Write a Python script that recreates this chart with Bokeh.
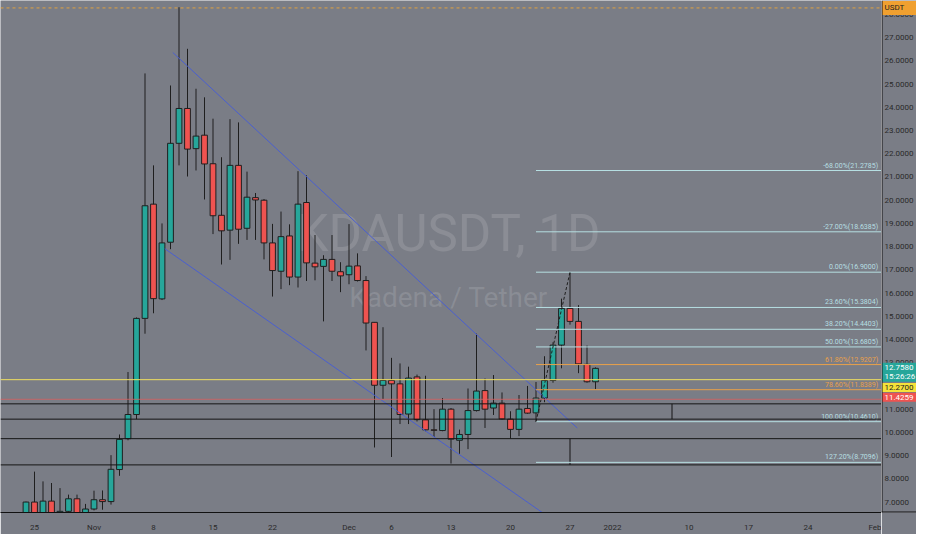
import pandas as pd

from bokeh.core.properties import value
from bokeh.embed import file_html
from bokeh.layouts import row
from bokeh.models import FixedTicker, Label, Range1d, Span
from bokeh.plotting import figure
from bokeh.resources import INLINE

# daily candles, KDA/USDT, starting 2021-10-24
first_day = "2021-10-24"
opens = [6.40, 7.00, 6.45, 7.04, 6.45, 6.60, 7.14, 6.52,
         6.70, 7.10, 7.02, 8.40, 9.73, 10.77, 14.91, 19.83, 15.75, 18.19,
         22.45, 23.95, 22.22, 22.80, 21.57, 19.35, 18.71, 21.50, 18.79, 20.11,
         20.00, 18.16, 16.94, 18.46, 16.69, 19.90, 17.29, 17.15, 17.45, 16.92,
         16.79, 17.17, 16.54, 14.74, 12.03, 12.24, 12.09, 10.79, 12.39, 10.54,
         10.11, 10.08, 11.00, 9.66, 9.91, 10.94, 11.80, 11.05, 11.26, 10.57,
         10.13, 11.03, 10.84, 11.48, 12.24, 13.76, 15.34, 14.78, 12.93, 12.18]
highs = [7.02, 8.31, 7.89, 7.82, 7.60, 7.32, 7.32, 6.92,
         7.49, 7.50, 9.02, 9.91, 12.60, 14.95, 25.46, 21.50, 19.00, 24.94,
         28.31, 26.52, 24.80, 24.43, 23.51, 21.85, 23.49, 23.35, 21.23, 20.31,
         20.05, 18.98, 19.51, 18.96, 21.25, 21.07, 18.50, 17.63, 18.50, 17.33,
         18.97, 17.71, 16.73, 14.75, 14.53, 13.21, 12.97, 12.83, 12.49, 12.44,
         11.00, 11.48, 11.05, 10.12, 11.89, 14.25, 12.32, 12.47, 11.72, 10.91,
         11.61, 12.00, 12.17, 13.28, 13.88, 15.76, 16.90, 15.48, 13.74, 12.80]
lows = [6.30, 6.30, 6.35, 6.30, 6.30, 6.50, 6.40, 6.45,
        6.64, 6.67, 6.89, 8.13, 9.66, 10.57, 14.25, 15.13, 15.70, 17.89,
        21.50, 21.02, 21.28, 20.03, 18.54, 17.23, 17.43, 18.12, 18.29, 18.29,
        17.45, 15.85, 16.17, 16.34, 16.24, 16.52, 16.55, 14.78, 16.52, 16.04,
        16.38, 16.50, 13.53, 9.35, 11.44, 8.94, 10.36, 10.36, 10.47, 10.05,
        9.80, 10.05, 8.66, 9.08, 9.28, 10.90, 10.19, 10.75, 10.55, 9.74,
        9.84, 10.80, 10.46, 11.30, 12.14, 12.76, 14.64, 12.55, 12.14, 11.86]
closes = [7.00, 6.45, 7.04, 6.45, 6.60, 7.14, 6.52, 6.70,
          7.10, 7.02, 8.41, 9.70, 10.77, 14.91, 19.76, 15.76, 18.16, 22.45,
          23.95, 22.20, 22.76, 21.56, 19.33, 18.68, 21.50, 18.75, 20.13, 20.01,
          18.16, 16.97, 18.43, 16.69, 19.83, 17.30, 17.13, 17.45, 16.94, 16.74,
          17.16, 16.54, 14.71, 12.03, 12.24, 12.09, 10.77, 12.34, 10.55, 10.11,
          10.09, 11.00, 9.71, 9.91, 10.94, 11.78, 11.00, 11.26, 10.58, 10.13,
          11.00, 10.83, 11.48, 12.24, 13.76, 15.34, 14.78, 12.95, 12.18, 12.758]

tick_dates = ["2021-10-25", "2021-11-01", "2021-11-08", "2021-11-15", "2021-11-22",
              "2021-12-01", "2021-12-06", "2021-12-13", "2021-12-20", "2021-12-27",
              "2022-01-01", "2022-01-10", "2022-01-17", "2022-01-24", "2022-02-01"]
tick_labels = ["25", "Nov", "8", "15", "22", "Dec", "6", "13", "20", "27",
               "2022", "10", "17", "24", "Feb"]
price_ticks = [7, 8, 9, 10, 11, 12, 13, 14, 15, 16, 17, 18, 19, 20, 21, 22,
               23, 24, 25, 26, 27, 28]

# fibonacci retracement drawn from 2021-12-23
fib_start = "2021-12-23"
fib_pcts = [-68.0, -27.0, 0.0, 23.6, 38.2, 50.0, 61.8, 78.6, 100.0, 127.2]
fib_prices = [21.2785, 18.6385, 16.9000, 15.3804, 14.4403, 13.6805, 12.9207,
              11.8389, 10.4610, 8.7096]
fib_trend_dates = ["2021-12-23", "2021-12-27"]
fib_trend_prices = [10.461, 16.90]

# wedge trendlines
upper_dates = ["2021-11-10 06:30", "2021-12-27 20:24"]
upper_prices = [26.36, 10.19]
lower_dates = ["2021-11-09 08:00", "2021-12-26 00:00"]
lower_prices = [17.91, 5.97]

# horizontal levels
alert_price = 28.28
last_price = 12.758
yellow_price = 12.27
red_price = 11.4259
box_tops = [11.23, 9.73]
box_bottoms = [10.57, 8.60]
box_edges = ["2022-01-08", "2021-12-27"]

BG = "#7a7d86"
UP = "#26a69a"
DOWN = "#ef5350"
INK = "#1f1f1f"
AXIS_TEXT = "#2a2a2a"
FIB = "#b6dfe2"
FIB_ORANGE = "#e8a04a"
FONT = "Liberation Sans Narrow, Roboto"

base = pd.Timestamp("2021-10-25")


def day(d):
    return (pd.Timestamp(d) - base) / pd.Timedelta(days=1)


dates = pd.date_range(first_day, periods=len(opens), freq="D")
xs = [day(d) for d in dates]

CHART_W, SCALE_W, H, AXIS_H = 881, 35, 534, 18
FRAME_H = H - AXIS_H
y_range = Range1d(6.55, 28.6)
px_per_unit = FRAME_H / (y_range.end - y_range.start)

p = figure(
    width=CHART_W,
    height=H,
    output_backend="svg",
    toolbar_location=None,
    y_axis_location=None,
    x_range=Range1d(-4, -4 + CHART_W / 8.5),
    y_range=y_range,
    min_border_left=0,
    min_border_top=0,
    min_border_right=0,
    min_border_bottom=AXIS_H,
)
p.background_fill_color = BG
p.border_fill_color = BG
p.outline_line_color = None
p.grid.visible = False

p.xaxis.ticker = FixedTicker(ticks=[day(d) for d in tick_dates])
p.xaxis.major_label_overrides = {day(d): lab for d, lab in zip(tick_dates, tick_labels)}
p.xaxis.axis_line_color = "#111111"
p.xaxis.major_tick_line_color = None
p.xaxis.minor_tick_line_color = None
p.xaxis.major_label_text_font_size = "8px"
p.xaxis.major_label_text_color = AXIS_TEXT
p.xaxis.major_label_text_font = FONT
p.xaxis.major_label_standoff = 4

# watermark
p.add_layout(Label(x=448, y=FRAME_H - 237, x_units="screen", y_units="screen",
                   text="KDAUSDT, 1D", text_align="center", text_baseline="middle",
                   text_font_size="51px", text_font=FONT, text_color="white",
                   text_alpha=0.13, level="underlay"))
p.add_layout(Label(x=448, y=FRAME_H - 301, x_units="screen", y_units="screen",
                   text="Kadena / Tether", text_align="center", text_baseline="middle",
                   text_font_size="28px", text_font=FONT, text_color="white",
                   text_alpha=0.13, level="underlay"))

# candles
up = [c >= o for o, c in zip(opens, closes)]
p.segment(xs, highs, xs, lows, color=INK, line_width=1)
p.vbar(x=xs, top=[max(o, c) for o, c in zip(opens, closes)],
       bottom=[min(o, c) for o, c in zip(opens, closes)], width=0.68,
       fill_color=[UP if u else DOWN for u in up], line_color=INK, line_width=1)

# wedge trendlines
p.line([day(d) for d in upper_dates], upper_prices, color="#4a5fd0", line_width=1)
p.line([day(d) for d in lower_dates], lower_prices, color="#4a5fd0", line_width=1)

# full width levels
p.add_layout(Span(location=alert_price, dimension="width", line_color="#e0a040",
                  line_dash="3 3", line_width=1))
p.add_layout(Span(location=yellow_price, dimension="width", line_color="#f0e060",
                  line_width=1))
p.add_layout(Span(location=red_price, dimension="width", line_color="#d86060",
                  line_width=1, line_alpha=0.8))
for top, bot, edge in zip(box_tops, box_bottoms, box_edges):
    for lvl in (top, bot):
        p.add_layout(Span(location=lvl, dimension="width", line_color="#151515",
                          line_width=1))
    p.segment([day(edge)], [top], [day(edge)], [bot], color="#151515", line_width=1)

# fibonacci
x_end = p.x_range.end
fib_cols = [FIB_ORANGE if pc in (61.8, 78.6) else FIB for pc in fib_pcts]
p.segment([day(fib_start)] * len(fib_prices), fib_prices, [x_end] * len(fib_prices),
          fib_prices, color=fib_cols, line_width=1)
p.text([x_end - 0.4] * len(fib_prices), fib_prices,
       text=[f"{pc:.2f}%({pr:.4f})" for pc, pr in zip(fib_pcts, fib_prices)],
       text_align="right", text_baseline="bottom", text_font_size="7px",
       text_font=value(FONT), text_color=fib_cols, y_offset=-1)
p.line([day(d) for d in fib_trend_dates], fib_trend_prices, color=INK,
       line_dash="3 2", line_width=1)

# price scale on the right
scale = figure(
    width=SCALE_W,
    height=H,
    output_backend="svg",
    toolbar_location=None,
    x_axis_location=None,
    y_axis_location=None,
    x_range=Range1d(0, SCALE_W),
    y_range=y_range,
    min_border_left=0,
    min_border_top=0,
    min_border_right=0,
    min_border_bottom=AXIS_H,
)
scale.background_fill_color = BG
scale.border_fill_color = BG
scale.outline_line_color = None
scale.grid.visible = False
scale.add_layout(Span(location=0.5, dimension="height", line_color="#111111",
                      line_width=1))
scale.add_layout(Span(location=y_range.start, dimension="width", line_color="#111111",
                      line_width=2))
scale.text([3] * len(price_ticks), price_ticks,
           text=[f"{t:.4f}" for t in price_ticks], text_baseline="middle",
           text_font_size="8px", text_font=value(FONT), text_color=AXIS_TEXT)


def tag(price, text, bg, fg, shift_px=0, h_px=10):
    yc = price - shift_px / px_per_unit
    scale.rect([17.5], [yc], width=[34], height=[h_px], height_units="screen",
               fill_color=bg, line_color=None)
    scale.text([3], [yc], text=[text], text_baseline="middle", text_font_size="8px",
               text_font=value(FONT), text_color=fg, text_line_height=1.0)


tag(alert_price, "USDT", "#f0a030", "#222222", h_px=14)
tag(last_price, "12.7580\n15:26:26", UP, "white", shift_px=4, h_px=19)
tag(yellow_price, "12.2700", "#f5e23a", "#222222", shift_px=8, h_px=9)
tag(red_price, "11.4259", DOWN, "white", shift_px=-2, h_px=9)

p = row(p, scale)
open("out.html", "w").write(file_html(p, INLINE))
